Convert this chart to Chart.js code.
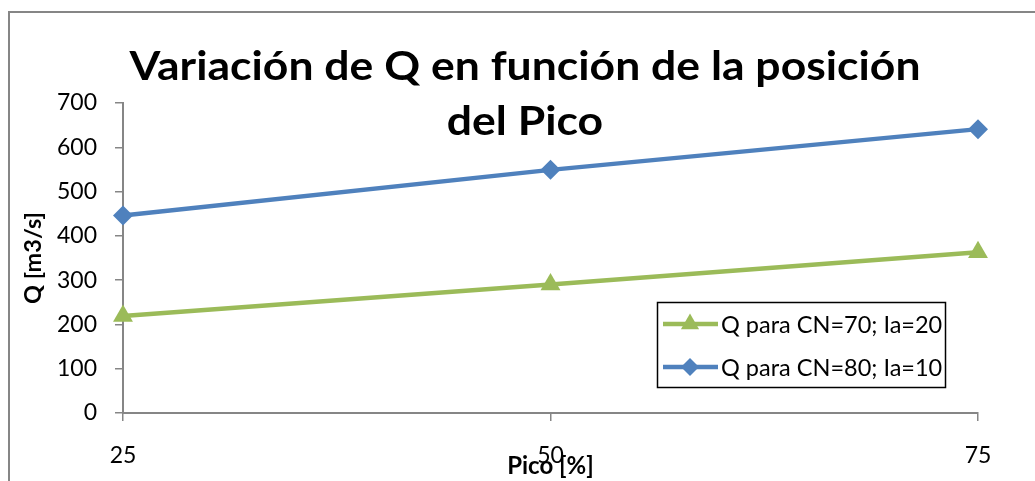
<!DOCTYPE html>
<html>
<head>
<meta charset="utf-8">
<script src="https://cdn.jsdelivr.net/npm/chart.js@4.4.1/dist/chart.umd.min.js"></script>
<style>
  html, body { margin: 0; padding: 0; background: #fff; overflow: hidden; }
  canvas { display: block; }
</style>
</head>
<body>
<canvas id="chart" width="1035" height="481"></canvas>
<script>
// Peak position (% of storm duration) on the x axis
const picoPercent = [25, 50, 75];
// Peak discharge Q [m3/s] for each curve-number / initial-abstraction case
const qCN70Ia20 = [219, 290, 363];
const qCN80Ia10 = [446, 549, 641];
const seriesNames = ['Q para CN=70; Ia=20', 'Q para CN=80; Ia=10'];
const yTickValues = [0, 100, 200, 300, 400, 500, 600, 700];
const titleLines = ['Variación de Q en función de la posición', 'del Pico'];
const xAxisTitle = 'Pico [%]';
const yAxisTitle = 'Q [m3/s]';

const FONT = 'Lato, "Open Sans", "Liberation Sans", sans-serif';
const GREEN = '#9BBB59';
const BLUE = '#4F81BD';
const AXIS = '#868686';

function marker(ctx, style, x, y, r, color) {
  ctx.save();
  ctx.fillStyle = color;
  ctx.beginPath();
  if (style === 'triangle') {
    let a = 0;
    ctx.moveTo(x + Math.sin(a) * r, y - Math.cos(a) * r);
    a += 2 * Math.PI / 3;
    ctx.lineTo(x + Math.sin(a) * r, y - Math.cos(a) * r);
    a += 2 * Math.PI / 3;
    ctx.lineTo(x + Math.sin(a) * r, y - Math.cos(a) * r);
  } else {
    ctx.moveTo(x - r, y);
    ctx.lineTo(x, y - r);
    ctx.lineTo(x + r, y);
    ctx.lineTo(x, y + r);
  }
  ctx.closePath();
  ctx.fill();
  ctx.restore();
}

const decorations = {
  id: 'decorations',
  beforeDraw(chart) {
    const ctx = chart.ctx;
    ctx.save();
    ctx.fillStyle = '#fff';
    ctx.fillRect(0, 0, chart.width, chart.height);
    ctx.strokeStyle = AXIS;
    ctx.lineWidth = 2;
    ctx.strokeRect(9, 12, chart.width + 40, chart.height + 40);
    ctx.restore();
  },
  afterDraw(chart) {
    const ctx = chart.ctx;
    // Title, two centred lines over the plot
    ctx.save();
    ctx.fillStyle = '#000';
    ctx.textAlign = 'center';
    ctx.textBaseline = 'alphabetic';
    ctx.font = 'bold 40px ' + FONT;
    const w1 = ctx.measureText(titleLines[0]).width;
    const sx = 791 / w1;
    const cx = 525;
    const baselines = [80, 135];
    titleLines.forEach((line, i) => {
      ctx.save();
      ctx.translate(cx, baselines[i]);
      ctx.scale(sx, 1);
      ctx.fillText(line, 0, 0);
      ctx.restore();
    });
    ctx.restore();

    // Legend box inside the plot area
    ctx.save();
    ctx.strokeStyle = '#000';
    ctx.lineWidth = 1.5;
    ctx.strokeRect(657.5, 302.5, 288, 85);
    ctx.font = '23.5px ' + FONT;
    ctx.textBaseline = 'middle';
    ctx.textAlign = 'left';
    [0, 1].forEach((di, i) => {
      const ds = chart.data.datasets[di];
      const y = 324 + i * 43;
      ctx.strokeStyle = ds.borderColor;
      ctx.lineWidth = ds.borderWidth;
      ctx.beginPath();
      ctx.moveTo(663, y);
      ctx.lineTo(718, y);
      ctx.stroke();
      marker(ctx, ds.pointStyle, 690, y, ds.pointStyle === 'triangle' ? 10.5 : 9, ds.borderColor);
      ctx.fillStyle = '#000';
      ctx.fillText(ds.label, 721, y + 1);
    });
    ctx.restore();
  }
};

new Chart(document.getElementById('chart'), {
  type: 'line',
  data: {
    labels: picoPercent,
    datasets: [
      {
        label: seriesNames[0],
        data: qCN70Ia20,
        borderColor: GREEN,
        backgroundColor: GREEN,
        borderWidth: 4.5,
        pointStyle: 'triangle',
        pointRadius: 11.5,
        pointBorderWidth: 0,
        pointBackgroundColor: GREEN,
        tension: 0,
        clip: false
      },
      {
        label: seriesNames[1],
        data: qCN80Ia10,
        borderColor: BLUE,
        backgroundColor: BLUE,
        borderWidth: 4.5,
        pointStyle: 'rectRot',
        pointRadius: 10,
        pointBorderWidth: 0,
        pointBackgroundColor: BLUE,
        tension: 0,
        clip: false
      }
    ]
  },
  options: {
    responsive: false,
    animation: false,
    devicePixelRatio: 1,
    layout: { padding: { left: 0, top: 103, right: 57, bottom: 0 } },
    plugins: {
      legend: { display: false },
      title: { display: false },
      tooltip: { enabled: false }
    },
    scales: {
      x: {
        type: 'category',
        offset: false,
        grid: { drawOnChartArea: false, tickLength: 8, color: AXIS, lineWidth: 1.5 },
        border: { display: true, color: AXIS, width: 2 },
        ticks: { color: '#000', font: { family: FONT, size: 23 }, padding: 21, maxRotation: 0 },
        title: {
          display: true, text: xAxisTitle, color: '#000',
          font: { family: FONT, size: 24, weight: 'bold' },
          padding: { top: 0, bottom: 0 }
        },
        afterFit(scale) { scale.height = 68; }
      },
      y: {
        min: 0,
        max: 700,
        afterBuildTicks(scale) { scale.ticks = yTickValues.map(v => ({ value: v })); },
        grid: { drawOnChartArea: false, tickLength: 8, color: AXIS, lineWidth: 1.5 },
        border: { display: true, color: AXIS, width: 2 },
        ticks: { color: '#000', font: { family: FONT, size: 23 }, padding: 18 },
        title: {
          display: true, text: yAxisTitle, color: '#000',
          font: { family: FONT, size: 23.5, weight: 'bold' },
          padding: { top: 19, bottom: 0 }
        },
        afterFit(scale) { scale.width = 123; }
      }
    }
  },
  plugins: [decorations]
});
</script>
</body>
</html>
